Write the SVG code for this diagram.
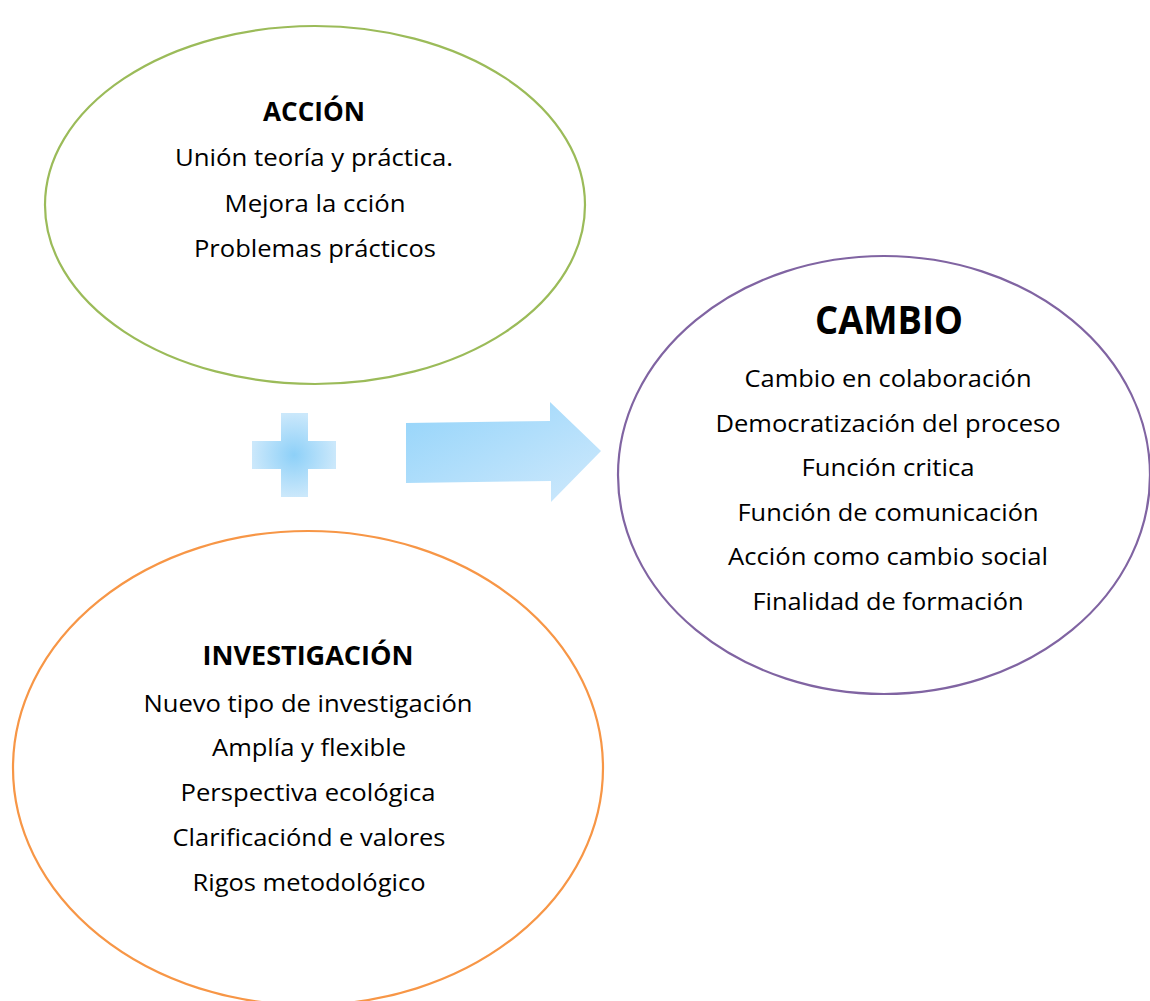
<svg xmlns="http://www.w3.org/2000/svg" width="1150" height="1001" viewBox="0 0 1150 1001">
<style>
.t{font-family:"Open Sans","Liberation Sans",sans-serif;font-size:23px;fill:#000;text-anchor:middle}
.h{font-family:"Open Sans","Liberation Sans",sans-serif;font-size:26px;font-weight:bold;fill:#000;text-anchor:middle}
.e{fill:#fff;stroke-width:2.2}
</style>
<defs>
<radialGradient id="gp" cx="0.5" cy="0.5" r="0.5">
<stop offset="0" stop-color="#8dd0f8"/>
<stop offset="1" stop-color="#cbe8fb"/>
</radialGradient>
<linearGradient id="ga" x1="0" y1="0" x2="1" y2="1">
<stop offset="0" stop-color="#94d4fa"/>
<stop offset="1" stop-color="#cfe9fc"/>
</linearGradient>
</defs>
<rect width="1150" height="1001" fill="#fff"/>
<g id="accion">
<ellipse class="e" cx="315" cy="205" rx="270" ry="179" stroke="#9bbb59"/>
<text class="h" x="314" y="121" textLength="102" lengthAdjust="spacingAndGlyphs">ACCIÓN</text>
<text class="t" x="314" y="166" textLength="278" lengthAdjust="spacingAndGlyphs">Unión teoría y práctica.</text>
<text class="t" x="315" y="212" textLength="181" lengthAdjust="spacingAndGlyphs">Mejora la cción</text>
<text class="t" x="315" y="257" textLength="242" lengthAdjust="spacingAndGlyphs">Problemas prácticos</text>
</g>
<g id="cambio">
<ellipse class="e" cx="884" cy="475" rx="266" ry="219" stroke="#8064a2"/>
<text class="h" x="889" y="334" style="font-size:39px" textLength="148" lengthAdjust="spacingAndGlyphs">CAMBIO</text>
<text class="t" x="888" y="387" textLength="287" lengthAdjust="spacingAndGlyphs">Cambio en colaboración</text>
<text class="t" x="888" y="432" textLength="345" lengthAdjust="spacingAndGlyphs">Democratización del proceso</text>
<text class="t" x="888" y="476" textLength="173" lengthAdjust="spacingAndGlyphs">Función critica</text>
<text class="t" x="888" y="521" textLength="301" lengthAdjust="spacingAndGlyphs">Función de comunicación</text>
<text class="t" x="888" y="565" textLength="320" lengthAdjust="spacingAndGlyphs">Acción como cambio social</text>
<text class="t" x="888" y="610" textLength="271" lengthAdjust="spacingAndGlyphs">Finalidad de formación</text>
</g>
<g id="investigacion">
<ellipse class="e" cx="308" cy="768" rx="295" ry="237" stroke="#f79646"/>
<text class="h" x="308" y="665" textLength="211" lengthAdjust="spacingAndGlyphs">INVESTIGACIÓN</text>
<text class="t" x="308" y="712" textLength="329" lengthAdjust="spacingAndGlyphs">Nuevo tipo de investigación</text>
<text class="t" x="309" y="756" textLength="194" lengthAdjust="spacingAndGlyphs">Amplía y flexible</text>
<text class="t" x="308" y="801" textLength="255" lengthAdjust="spacingAndGlyphs">Perspectiva ecológica</text>
<text class="t" x="309" y="846" textLength="273" lengthAdjust="spacingAndGlyphs">Clarificaciónd e valores</text>
<text class="t" x="309" y="891" textLength="233" lengthAdjust="spacingAndGlyphs">Rigos metodológico</text>
</g>
<g id="connectors">
<path id="plus" d="M281,413 H308 V441 H336 V469 H308 V497 H281 V469 H252 V441 H281 Z" fill="url(#gp)"/>
<path id="arrow" d="M406,423 L550,421 L550,402 L601,451 L551,502 L551,481 L406,483 Z" fill="url(#ga)"/>
</g>
</svg>
